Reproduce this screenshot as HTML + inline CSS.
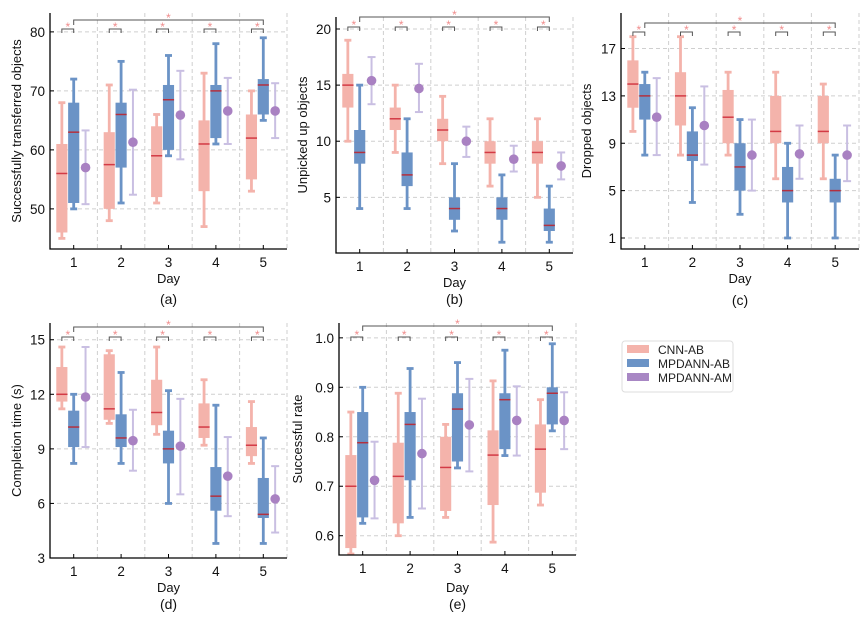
<!DOCTYPE html>
<html><head><meta charset="utf-8"><style>
body{margin:0;background:#fff;width:864px;height:619px;overflow:hidden}
svg{display:block;font-family:"Liberation Sans",Arial,sans-serif}
</style></head><body>
<svg id="fig" width="864" height="619" viewBox="0 0 864 619"></svg>
<script>
const days=[1,2,3,4,5];
// [whiskerLow, q1, median, q3, whiskerHigh]
const aCnn=[[45,46,56,61,68],[48,50,57.5,63,71],[51,52,59,64,66],[47,53,61,65,73],[53,55,62,66,70]];
const aAb=[[50,51,63,68,72],[51,57,66,68,75],[59,60,68.5,71,76],[61,62,70,71,78],[65,66,71,72,79]];
const aAm=[[57,50.8,63.3],[61.3,52.4,70.2],[65.9,58.4,73.4],[66.6,61,72.2],[66.6,62,71.3]];
const aTicks=[50,60,70,80];
const bCnn=[[10,13,15,16,19],[9,11,12,13,15],[8,10,11,12,14],[6,8,9,10,12],[5,8,9,10,12]];
const bAb=[[4,8,9,11,15],[4,6,7,9,12],[2,3,4,5,8],[1,3,4,5,7],[1,2,2.5,4,6]];
const bAm=[[15.4,13.3,17.5],[14.7,12.6,16.9],[10,8.6,11.3],[8.4,7.3,9.6],[7.8,6.6,9]];
const bTicks=[5,10,15,20];
const cCnn=[[10,12,14,16,18],[8,10.5,13,15,18],[8,9,11.2,13.5,15],[6,9,10,13,15],[6,9,10,13,14]];
const cAb=[[8,11,13,14,15],[4,7.5,8,10,12],[3,5,7,9,11],[1,4,5,7,9],[1,4,5,6,8]];
const cAm=[[11.2,8,14.5],[10.5,7.2,13.8],[8,5,11],[8.1,6,10.5],[8,5.8,10.5]];
const cTicks=[1,5,9,13,17];
const dCnn=[[11.2,11.6,12,13.5,14.6],[10.4,10.6,11.2,14.2,14.4],[9.8,10.3,11,12.8,14.6],[9.2,9.6,10.2,11.5,12.8],[8.2,8.6,9.2,10.2,11.6]];
const dAb=[[8.2,9.1,10.2,11.1,12],[8.2,9.1,9.6,10.9,13.2],[6,8.2,9,10,12.2],[3.8,5.6,6.4,8,11.4],[3.8,5.2,5.4,7.4,9.6]];
const dAm=[[11.85,9.1,14.6],[9.45,7.8,11.15],[9.15,6.5,11.75],[7.5,5.3,9.65],[6.25,4.4,8.05]];
const dTicks=[3,6,9,12,15];
const eCnn=[[0.563,0.575,0.70,0.763,0.85],[0.60,0.625,0.72,0.788,0.888],[0.637,0.65,0.738,0.80,0.825],[0.587,0.662,0.763,0.813,0.913],[0.662,0.687,0.775,0.825,0.875]];
const eAb=[[0.625,0.637,0.788,0.85,0.90],[0.637,0.712,0.825,0.85,0.938],[0.737,0.75,0.856,0.888,0.95],[0.762,0.775,0.875,0.888,0.975],[0.812,0.825,0.888,0.90,0.988]];
const eAm=[[0.712,0.635,0.79],[0.766,0.655,0.877],[0.824,0.73,0.917],[0.833,0.762,0.902],[0.833,0.775,0.89]];
const eTicks=[0.6,0.7,0.8,0.9,1.0];

const panels=[
 {key:'a',cnn:aCnn,ab:aAb,am:aAm,ticks:aTicks,fmt:v=>v,x0:50,x1:287,y0:13,y1:249,ymin:43.2,ymax:83.2,ylab:'Successfully transferred objects',ylx:17,dayY:283,capY:304,sm:16,bg:7},
 {key:'b',cnn:bCnn,ab:bAb,am:bAm,ticks:bTicks,fmt:v=>v,x0:336,x1:573,y0:17,y1:253,ymin:0.04,ymax:21.07,ylab:'Unpicked up objects',ylx:303,dayY:287,capY:304,sm:10,bg:0},
 {key:'c',cnn:cCnn,ab:cAb,am:cAm,ticks:cTicks,fmt:v=>v,x0:621,x1:859,y0:13,y1:249,ymin:0.07,ymax:20,ylab:'Dropped objects',ylx:587,dayY:283,capY:305,sm:19,bg:10},
 {key:'d',cnn:dCnn,ab:dAb,am:dAm,ticks:dTicks,fmt:v=>v,x0:50,x1:287,y0:323,y1:558,ymin:3,ymax:15.92,ylab:'Completion time (s)',ylx:17,dayY:592,capY:609,sm:14,bg:4},
 {key:'e',cnn:eCnn,ab:eAb,am:eAm,ticks:eTicks,fmt:v=>v.toFixed(1),x0:339,x1:576,y0:323,y1:555,ymin:0.561,ymax:1.03,ylab:'Successful rate',ylx:298,dayY:592,capY:609,sm:14,bg:3}
];
const NS='http://www.w3.org/2000/svg';
const svg=document.getElementById('fig');
function el(tag,attrs,parent,text){const e=document.createElementNS(NS,tag);for(const k in attrs)e.setAttribute(k,attrs[k]);if(text!==undefined)e.textContent=text;(parent||svg).appendChild(e);return e;}
const RED='#f4b3ab',BLUE='#6b93c6',PUR='#a981c2',PURL='#c9bfe2',MED='#d33a45',MEDB='#b3303f';
function drawBox(g,xc,v,col,med,w){
 const [lo,q1,m,q3,hi]=v.map(g.Y);
 const wl=el('line',{x1:xc,x2:xc,y1:lo,y2:hi,stroke:col,'stroke-width':2.8},g.g);
 
 for(const yy of [lo,hi]){const c=el('line',{x1:xc-3.5,x2:xc+3.5,y1:yy,y2:yy,stroke:col,'stroke-width':2.8},g.g);
  }
 const r=el('rect',{x:xc-w/2,y:q3,width:w,height:q1-q3,fill:col},g.g);
 
 const ml=el('line',{x1:xc-w/2,x2:xc+w/2,y1:m,y2:m,stroke:med,'stroke-width':1.5},g.g);
 
}
panels.forEach(p=>{
 const g=el('g',{},svg);
 
 const X=d=>p.x0+(d-0.5)/5*(p.x1-p.x0);
 const Y=v=>p.y1-(v-p.ymin)/(p.ymax-p.ymin)*(p.y1-p.y0);
 const step=(p.x1-p.x0)/5;
 const ctx={g,Y};
 p.ticks.forEach(t=>{const l=el('line',{x1:p.x0,x2:p.x1,y1:Y(t),y2:Y(t),stroke:'#cfcfcf','stroke-width':1,'stroke-dasharray':'4,3'},g);
  });
 [1.5,2.5,3.5,4.5,5.5].forEach(d=>{const l=el('line',{x1:X(d),x2:X(d),y1:p.y0,y2:p.y1,stroke:'#cfcfcf','stroke-width':1,'stroke-dasharray':'4,3'},g);
  });
 const bw=step*0.235, off=step*0.25;
 days.forEach((d,i)=>{
  drawBox(ctx,X(d)-off,p.cnn[i],RED,MED,bw);
  drawBox(ctx,X(d),p.ab[i],BLUE,MEDB,bw);
  const [mu,lo,hi]=p.am[i];const xc=X(d)+off;
  const e=el('line',{x1:xc,x2:xc,y1:Y(lo),y2:Y(hi),stroke:PURL,'stroke-width':2},g);
  
  [lo,hi].forEach(v=>{const c=el('line',{x1:xc-4,x2:xc+4,y1:Y(v),y2:Y(v),stroke:PURL,'stroke-width':2},g);
   });
  const dot=el('circle',{cx:xc,cy:Y(mu),r:4.8,fill:PUR},g);
  
  const by=p.y0+p.sm, x1=X(d)-off, x2=X(d);
  const br=el('path',{d:`M${x1},${by+4}V${by}H${x2}V${by+4}`,fill:'none',stroke:'#555','stroke-width':1},g);
  
  const st=el('text',{x:(x1+x2)/2,y:by+2,'text-anchor':'middle','font-size':12,fill:'#f08c8c'},g,'*');
  
  const tk=el('line',{x1:X(d),x2:X(d),y1:p.y1,y2:p.y1-4,stroke:'#000','stroke-width':1},g);
  
  const tl=el('text',{x:X(d),y:p.y1+18,'text-anchor':'middle','font-size':13.5,fill:'#111'},g,String(d));
  
 });
 const gy=p.y0+p.bg;
 const bb=el('path',{d:`M${X(1)},${gy+5}V${gy}H${X(5)}V${gy+5}`,fill:'none',stroke:'#555','stroke-width':1},g);
 
 const bs=el('text',{x:X(3),y:gy+2,'text-anchor':'middle','font-size':12,fill:'#f08c8c'},g,'*');
 
 p.ticks.forEach(t=>{
  const tk=el('line',{x1:p.x0,x2:p.x0+4,y1:Y(t),y2:Y(t),stroke:'#000','stroke-width':1},g);
  
  const tl=el('text',{x:p.x0-5,y:Y(t)+5,'text-anchor':'end','font-size':13.5,fill:'#111'},g,p.fmt(t));
  
 });
 const ax=el('path',{d:`M${p.x0},${p.y0}V${p.y1}H${p.x1}`,fill:'none',stroke:'#000','stroke-width':1.3},g);
 
 const xl=el('text',{x:(p.x0+p.x1)/2,y:p.dayY,'text-anchor':'middle','font-size':13,fill:'#111'},g,'Day');
 
 const yc=(p.y0+p.y1)/2;
 const yl=el('text',{x:p.ylx,y:yc,'text-anchor':'middle','font-size':13,fill:'#111',transform:`rotate(-90 ${p.ylx} ${yc})`,dy:'4'},g,p.ylab);
 
 const cp=el('text',{x:(p.x0+p.x1)/2,y:p.capY,'text-anchor':'middle','font-size':14,fill:'#111'},g,'('+p.key+')');
 
});
const lg=el('g',{},svg);

el('rect',{x:622,y:341,width:111,height:51,rx:3,fill:'#fff',stroke:'#ddd'},lg);
const legNames=['CNN-AB','MPDANN-AB','MPDANN-AM'];
const legCols=[RED,BLUE,'#a887c4'];
legNames.forEach((n,i)=>{
 const it=el('g',{},lg);
 
 el('rect',{x:627,y:345+i*14,width:22,height:8,fill:legCols[i]},it);
 el('text',{x:658,y:354+i*14,'font-size':12,fill:'#222'},it,n);
});
</script>
</body></html>
